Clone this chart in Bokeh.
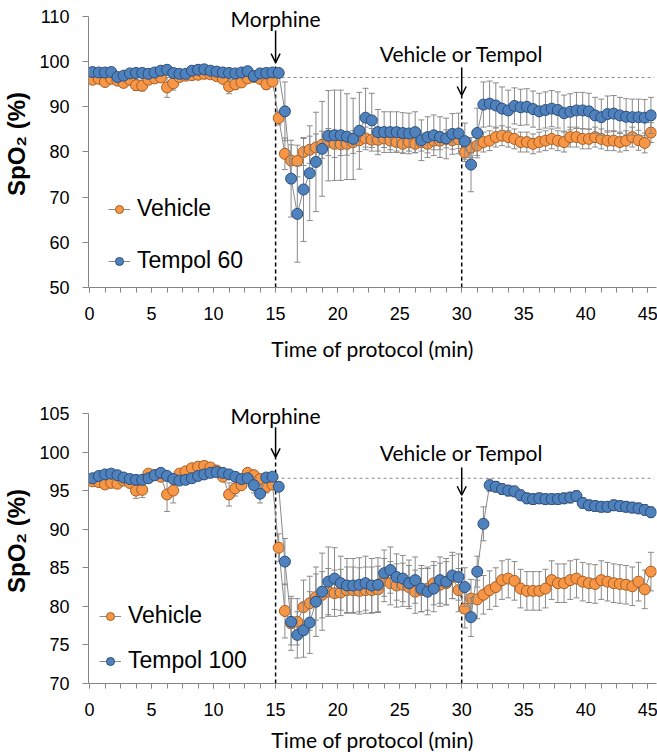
from bokeh.plotting import figure
from bokeh.models import (Range1d, FixedTicker, Label, Arrow, OpenHead, Legend, LegendItem)
from bokeh.layouts import column
from bokeh.embed import file_html
from bokeh.resources import INLINE

# ---------------- data ----------------
minutes = [0.25, 0.75, 1.25, 1.75, 2.25, 2.75, 3.25, 3.75, 4.25, 4.75,
           5.25, 5.75, 6.25, 6.75, 7.25, 7.75, 8.25, 8.75, 9.25, 9.75,
           10.25, 10.75, 11.25, 11.75, 12.25, 12.75, 13.25, 13.75, 14.25, 14.75,
           15.25, 15.75, 16.25, 16.75, 17.25, 17.75, 18.25, 18.75, 19.25, 19.75,
           20.25, 20.75, 21.25, 21.75, 22.25, 22.75, 23.25, 23.75, 24.25, 24.75,
           25.25, 25.75, 26.25, 26.75, 27.25, 27.75, 28.25, 28.75, 29.25, 29.75,
           30.25, 30.75, 31.25, 31.75, 32.25, 32.75, 33.25, 33.75, 34.25, 34.75,
           35.25, 35.75, 36.25, 36.75, 37.25, 37.75, 38.25, 38.75, 39.25, 39.75,
           40.25, 40.75, 41.25, 41.75, 42.25, 42.75, 43.25, 43.75, 44.25, 44.75,
           45.25]

top_vehicle = [96.0, 96.2, 95.5, 96.2, 95.8, 95.3, 96.0, 94.8, 94.7, 96.0,
               96.3, 96.5, 94.3, 95.2, 96.6, 96.9, 97.0, 97.1, 97.3, 97.2,
               96.8, 96.2, 94.5, 95.0, 95.4, 96.3, 96.6, 96.2, 95.0, 95.6,
               87.5, 79.6, 78.1, 78.0, 80.0, 80.5, 81.0, 81.6, 82.2, 81.8,
               81.7, 81.8, 82.2, 82.6, 83.0, 82.7, 82.7, 83.0, 82.5, 82.2,
               81.8, 82.2, 81.8, 82.2, 81.8, 82.5, 82.5, 82.9, 82.6, 82.8,
               79.9, 81.0, 81.4, 82.2, 82.5, 83.3, 83.6, 83.3, 82.9, 82.2,
               82.2, 81.8, 82.2, 82.5, 82.9, 82.5, 82.2, 83.3, 83.3, 82.9,
               82.9, 83.3, 82.9, 82.5, 82.5, 82.2, 82.5, 83.3, 82.6, 82.0,
               84.3]
top_vehicle_sem = [0.6, 0.6, 1.0, 0.6, 0.6, 1.0, 0.6, 1.2, 1.2, 0.6,
                   0.6, 0.6, 2.2, 1.5, 0.6, 0.6, 0.6, 0.6, 0.6, 0.6,
                   0.6, 0.8, 1.6, 1.2, 1.0, 0.6, 0.6, 0.6, 1.2, 1.0,
                   1.5, 3.5, 3.5, 3.5, 3.0, 3.0, 3.0, 3.0, 3.0, 3.0,
                   2.5, 2.5, 2.5, 2.5, 2.5, 2.5, 2.5, 2.0, 2.0, 2.0,
                   2.0, 2.0, 2.0, 2.0, 2.0, 2.0, 2.0, 2.0, 2.0, 2.0,
                   2.0, 2.2, 2.2, 2.2, 2.2, 2.2, 2.2, 2.2, 2.2, 2.2,
                   2.2, 2.2, 2.2, 2.2, 2.2, 2.2, 2.2, 2.2, 2.2, 2.2,
                   2.2, 2.2, 2.2, 2.2, 2.2, 2.2, 2.2, 2.2, 2.2, 2.2,
                   2.2]
top_tempol = [97.7, 97.6, 97.6, 97.7, 96.6, 96.9, 97.4, 97.5, 97.5, 97.3,
              97.6, 98.0, 98.2, 97.5, 97.3, 97.3, 98.0, 98.2, 98.3, 98.0,
              97.8, 97.6, 97.5, 97.4, 97.6, 97.9, 96.8, 97.4, 97.5, 97.6,
              97.5, 89.0, 74.1, 66.3, 71.7, 75.3, 77.8, 80.7, 83.6, 83.7,
              83.7, 83.4, 82.9, 84.7, 87.6, 87.0, 84.4, 84.4, 84.4, 84.4,
              84.2, 84.1, 84.4, 82.6, 83.3, 83.7, 83.3, 83.0, 84.0, 84.1,
              82.4, 77.2, 84.2, 90.5, 90.7, 90.3, 89.6, 89.2, 90.2, 89.9,
              90.0, 89.5, 89.0, 89.3, 89.6, 89.3, 88.6, 88.9, 89.2, 89.2,
              89.0, 88.1, 87.7, 88.4, 88.5, 88.1, 87.8, 87.7, 87.7, 87.6,
              88.1]
top_tempol_sem = [0.5, 0.5, 0.5, 0.5, 0.7, 0.5, 0.5, 0.5, 0.5, 0.5,
                  0.5, 0.5, 0.5, 0.5, 0.5, 0.5, 0.5, 0.5, 0.5, 0.5,
                  0.5, 0.5, 0.5, 0.5, 0.5, 0.5, 0.8, 0.5, 0.5, 0.5,
                  0.6, 6.5, 8.5, 10.7, 11.5, 10.5, 11.0, 10.5, 10.0, 10.0,
                  10.0, 9.5, 9.0, 8.5, 6.5, 6.0, 5.0, 4.5, 4.5, 4.5,
                  4.5, 4.5, 4.5, 4.5, 4.5, 4.5, 4.5, 4.5, 4.5, 4.5,
                  4.0, 6.0, 5.5, 5.0, 5.0, 5.0, 4.8, 4.5, 4.0, 4.0,
                  4.0, 4.0, 4.0, 4.0, 4.0, 4.0, 4.0, 4.0, 4.0, 4.0,
                  4.0, 4.0, 4.0, 4.0, 4.0, 4.0, 4.0, 4.0, 4.0, 4.0,
                  4.0]

bottom_vehicle = [96.2, 96.1, 95.8, 96.0, 95.9, 96.3, 96.0, 95.0, 95.1, 97.2,
                  97.0, 96.8, 94.5, 95.0, 97.2, 97.5, 97.9, 98.1, 98.2, 98.0,
                  97.6, 96.8, 94.5, 95.3, 95.7, 97.3, 97.0, 96.5, 95.5, 95.8,
                  87.6, 79.4, 77.8, 78.0, 79.9, 80.4, 81.2, 81.5, 81.9, 81.7,
                  81.8, 82.1, 82.1, 82.0, 82.1, 82.1, 82.2, 83.4, 83.0, 82.7,
                  82.8, 82.5, 81.9, 82.1, 82.3, 83.0, 82.8, 83.0, 83.8, 82.1,
                  79.7, 81.0, 80.9, 81.5, 82.1, 82.5, 83.4, 83.6, 83.3, 82.3,
                  82.0, 82.0, 82.0, 82.3, 83.4, 83.0, 83.0, 83.4, 83.6, 83.2,
                  83.0, 82.9, 83.4, 83.2, 83.0, 82.9, 82.8, 82.6, 83.2, 82.2,
                  84.5]
bottom_vehicle_sem = [0.5, 0.5, 0.5, 0.5, 0.5, 0.5, 0.5, 1.0, 1.0, 0.5,
                      0.5, 0.5, 2.2, 1.6, 0.5, 0.5, 0.5, 0.5, 0.5, 0.5,
                      0.5, 0.5, 1.5, 1.0, 0.5, 0.5, 0.5, 0.5, 0.8, 0.5,
                      1.8, 3.5, 3.5, 3.0, 3.5, 3.5, 3.0, 3.0, 3.0, 3.0,
                      3.0, 3.0, 3.0, 3.0, 3.0, 3.0, 3.0, 2.8, 2.8, 2.8,
                      2.8, 2.8, 2.8, 2.8, 2.8, 2.8, 2.8, 2.8, 2.8, 2.8,
                      2.5, 2.5, 2.5, 2.5, 2.5, 2.5, 2.5, 2.5, 2.5, 2.5,
                      2.5, 2.5, 2.5, 2.5, 2.5, 2.5, 2.5, 2.5, 2.5, 2.5,
                      2.5, 2.5, 2.5, 2.5, 2.5, 2.5, 2.5, 2.5, 2.5, 2.5,
                      2.5]
bottom_tempol = [96.6, 96.9, 97.1, 97.2, 97.0, 96.7, 96.5, 96.4, 96.4, 96.6,
                 97.0, 97.3, 96.9, 96.5, 96.3, 96.4, 96.6, 96.9, 97.1, 97.3,
                 97.4, 97.3, 97.1, 96.8, 96.5, 96.6, 95.7, 94.6, 96.7, 96.8,
                 95.5, 85.8, 78.0, 76.3, 76.9, 77.9, 80.6, 81.9, 83.2, 83.6,
                 83.0, 82.7, 82.7, 82.8, 83.0, 82.7, 82.8, 84.3, 84.7, 83.8,
                 83.6, 83.0, 83.4, 82.3, 81.9, 82.3, 83.4, 83.2, 84.0, 83.8,
                 82.5, 78.6, 84.5, 90.7, 95.7, 95.5, 95.2, 95.0, 94.9, 94.4,
                 94.0, 93.9, 94.0, 93.9, 93.9, 93.9, 94.0, 94.1, 94.3, 93.4,
                 93.1, 93.0, 92.9, 92.9, 93.1, 93.0, 92.9, 92.8, 92.7, 92.5,
                 92.2]
bottom_tempol_sem = [0.4, 0.4, 0.4, 0.4, 0.4, 0.4, 0.4, 0.4, 0.4, 0.4,
                     0.4, 0.4, 0.4, 0.4, 0.4, 0.4, 0.4, 0.4, 0.4, 0.4,
                     0.4, 0.4, 0.4, 0.4, 0.4, 0.4, 1.0, 1.2, 0.4, 0.4,
                     0.6, 3.0, 3.0, 3.0, 3.5, 4.0, 4.5, 5.0, 4.5, 4.0,
                     3.5, 3.5, 3.5, 3.5, 3.5, 3.5, 3.5, 3.0, 3.0, 3.0,
                     3.0, 3.0, 3.0, 3.0, 3.0, 3.0, 3.0, 3.0, 3.0, 3.0,
                     2.5, 2.5, 2.0, 2.2, 0.8, 0.7, 0.7, 0.7, 0.7, 0.7,
                     0.7, 0.7, 0.7, 0.7, 0.7, 0.7, 0.7, 0.7, 0.7, 0.7,
                     0.7, 0.7, 0.7, 0.7, 0.7, 0.7, 0.7, 0.7, 0.7, 0.7,
                     0.7]

x_ticks = [0, 5, 10, 15, 20, 25, 30, 35, 40, 45]
x_minor_ticks = [0, 1.25, 2.5, 3.75, 5, 6.25, 7.5, 8.75, 10, 11.25, 12.5, 13.75,
                 15, 16.25, 17.5, 18.75, 20, 21.25, 22.5, 23.75, 25, 26.25, 27.5,
                 28.75, 30, 31.25, 32.5, 33.75, 35, 36.25, 37.5, 38.75, 40, 41.25,
                 42.5, 43.75, 45]
top_y_ticks = [50, 60, 70, 80, 90, 100, 110]
bottom_y_ticks = [70, 75, 80, 85, 90, 95, 100, 105]
event_times = [15, 30]
event_labels = ["Morphine", "Vehicle or Tempol"]
baseline_level_top = 96.5
baseline_level_bottom = 96.6
series_names_top = ["Vehicle", "Tempol 60"]
series_names_bottom = ["Vehicle", "Tempol 100"]

# ---------------- style ----------------
ORANGE_FILL, ORANGE_EDGE = "#F79646", "#A65E22"
BLUE_FILL, BLUE_EDGE = "#4F81BD", "#2B4E7C"
GREY = "#8A8A8A"
AXIS_GREY = "#868686"


def draw_series(p, vals, sem, fill, edge):
    lo = [v - s for v, s in zip(vals, sem)]
    hi = [v + s for v, s in zip(vals, sem)]
    ln = p.line(minutes, vals, line_color=GREY, line_width=1)
    p.segment(x0=minutes, y0=lo, x1=minutes, y1=hi, line_color=GREY, line_width=1)
    p.scatter(minutes, hi, marker="dash", size=6, line_color=GREY, line_width=1)
    p.scatter(minutes, lo, marker="dash", size=6, line_color=GREY, line_width=1)
    sc = p.scatter(minutes, vals, size=11, fill_color=fill, line_color=edge, line_width=1)
    return ln, sc


def make_panel(vehicle, vehicle_sem, tempol, tempol_sem, names, y_lo, y_hi, y_top,
               y_ticks, frame_h, border_bottom, base_level, label_y, arrow_y, tip_y,
               legend_loc, legend_spacing, label_std, axis_label_std):
    p = figure(frame_width=568, frame_height=frame_h,
               x_range=Range1d(-0.08, 45.7), y_range=Range1d(y_lo, y_top),
               output_backend="svg", toolbar_location=None,
               min_border_left=86, min_border_right=3, min_border_top=0,
               min_border_bottom=border_bottom)
    p.outline_line_color = None
    p.grid.visible = False
    p.background_fill_color = "white"

    # x axis
    xa = p.xaxis[0]
    xa.ticker = FixedTicker(ticks=x_ticks, minor_ticks=x_minor_ticks)
    xa.axis_line_color = AXIS_GREY
    xa.major_tick_line_color = AXIS_GREY
    xa.minor_tick_line_color = AXIS_GREY
    xa.major_tick_out = 5
    xa.major_tick_in = 0
    xa.minor_tick_out = 5
    xa.minor_tick_in = 0
    xa.major_label_text_font = "Liberation Sans"
    xa.major_label_text_font_size = "18px"
    xa.major_label_text_color = "black"
    xa.major_label_standoff = label_std
    xa.axis_label = "Time of protocol (min)"
    xa.axis_label_text_font = "Lato"
    xa.axis_label_text_font_size = "21px"
    xa.axis_label_text_font_style = "normal"
    xa.axis_label_text_color = "black"
    xa.axis_label_standoff = axis_label_std

    # y axis
    ya = p.yaxis[0]
    ya.ticker = FixedTicker(ticks=y_ticks, minor_ticks=[])
    ya.bounds = (y_lo, y_hi)
    ya.axis_line_color = AXIS_GREY
    ya.major_tick_line_color = AXIS_GREY
    ya.major_tick_out = 6
    ya.major_tick_in = 0
    ya.minor_tick_line_color = None
    ya.major_label_text_font = "Liberation Sans"
    ya.major_label_text_font_size = "18px"
    ya.major_label_text_color = "black"
    ya.major_label_standoff = 13
    ya.axis_label = "SpO\u2082 (%)"
    ya.axis_label_text_font = "Liberation Sans"
    ya.axis_label_text_font_size = "24px"
    ya.axis_label_text_font_style = "bold"
    ya.axis_label_text_color = "black"
    ya.axis_label_standoff = 6

    # reference lines
    p.segment(x0=[event_times[0]], y0=[base_level], x1=[45.5], y1=[base_level],
              line_color=GREY, line_width=1, line_dash="3 3")
    p.segment(x0=event_times, y0=[y_lo, y_lo], x1=event_times, y1=tip_y,
              line_color="black", line_width=1.5, line_dash="4 3")

    # series
    ln_v, sc_v = draw_series(p, vehicle, vehicle_sem, ORANGE_FILL, ORANGE_EDGE)
    ln_t, sc_t = draw_series(p, tempol, tempol_sem, BLUE_FILL, BLUE_EDGE)

    # annotations
    for t, txt, ly, (ys, ye) in zip(event_times, event_labels, label_y, arrow_y):
        p.add_layout(Label(x=t, y=ly, text=txt, text_align="center",
                           text_baseline="alphabetic", text_font="Lato",
                           text_font_size="21px", text_color="black"))
        p.add_layout(Arrow(end=OpenHead(size=9, line_width=1.5, line_color="black"),
                           x_start=t, y_start=ys, x_end=t, y_end=ye,
                           line_width=1.5, line_color="black"))

    legend = Legend(items=[LegendItem(label=names[0], renderers=[ln_v, sc_v]),
                           LegendItem(label=names[1], renderers=[ln_t, sc_t])],
                    location=legend_loc, orientation="vertical",
                    label_text_font="Liberation Sans", label_text_font_size="23px",
                    label_text_color="black", glyph_width=22, glyph_height=20,
                    label_standoff=7, spacing=legend_spacing, padding=0, margin=0,
                    border_line_color=None, background_fill_alpha=0)
    p.add_layout(legend)
    return p


p1 = make_panel(top_vehicle, top_vehicle_sem, top_tempol, top_tempol_sem, series_names_top,
                50, 110, 113.54, top_y_ticks, 287, 111, baseline_level_top,
                label_y=[109.5, 101.75], arrow_y=[(106.9, 99.8), (98.7, 92.5)],
                tip_y=[99.8, 92.5], legend_loc=(20, 13), legend_spacing=25,
                label_std=14, axis_label_std=13)
p2 = make_panel(bottom_vehicle, bottom_vehicle_sem, bottom_tempol, bottom_tempol_sem,
                series_names_bottom, 70, 105, 106.94, bottom_y_ticks, 285, 70,
                baseline_level_bottom,
                label_y=[104.74, 99.95], arrow_y=[(103.2, 99.3), (98.0, 94.4)],
                tip_y=[99.3, 94.4], legend_loc=(11, 9), legend_spacing=18,
                label_std=14, axis_label_std=8)

layout = column(p1, p2, spacing=0)
open("out.html", "w").write(file_html(layout, INLINE))
